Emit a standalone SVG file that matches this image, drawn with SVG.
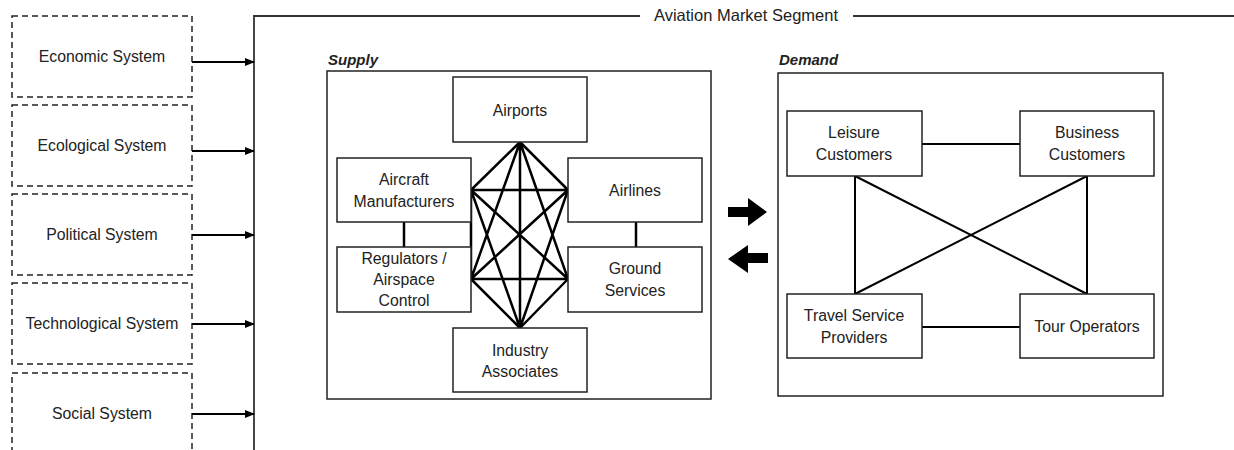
<svg xmlns="http://www.w3.org/2000/svg" width="1234" height="450" viewBox="0 0 1234 450">
<defs>
<marker id="ah" markerWidth="10" markerHeight="10" refX="9" refY="5" orient="auto" markerUnits="userSpaceOnUse">
<path d="M0,1 L10,5 L0,9 Z" fill="#000"/>
</marker>
<style>
text{font-family:"Liberation Sans",Arial,sans-serif;font-size:15.8px;fill:#222;text-anchor:middle}
.lbl{font-weight:bold;font-style:italic;text-anchor:start;font-size:15px}
.ttl{font-size:16.5px}
.dash{fill:#fff;stroke:#222;stroke-width:1.5;stroke-dasharray:6,4}
.box{fill:#fff;stroke:#222;stroke-width:1.5}
.frame{fill:none;stroke:#333;stroke-width:1.8}
.arr{stroke:#000;stroke-width:2;fill:none}
.k{stroke:#000;stroke-width:2.5;fill:none}
.d{stroke:#000;stroke-width:2;fill:none}
</style>
</defs>
<rect width="1234" height="450" fill="#fff"/>

<g id="frame">
<line x1="254" y1="16" x2="254" y2="450" class="frame"/>
<line x1="253" y1="16" x2="640" y2="16" class="frame"/>
<line x1="853" y1="16" x2="1234" y2="16" class="frame"/>
<text x="746" y="21" class="ttl">Aviation Market Segment</text>
</g>

<g id="economic"><rect x="12" y="16" width="180" height="81" class="dash"/><text x="102" y="62">Economic System</text></g>
<g id="ecological"><rect x="12" y="105" width="180" height="81" class="dash"/><text x="102" y="151">Ecological System</text></g>
<g id="political"><rect x="12" y="194" width="180" height="81" class="dash"/><text x="102" y="240">Political System</text></g>
<g id="technological"><rect x="12" y="283" width="180" height="81" class="dash"/><text x="102" y="329">Technological System</text></g>
<g id="social"><rect x="12" y="373" width="180" height="90" class="dash"/><text x="102" y="419">Social System</text></g>

<g id="supply">
<text x="328" y="65" class="lbl">Supply</text>
<rect x="327" y="71" width="384" height="328" class="box"/>
</g>
<g id="demand">
<text x="779" y="65" class="lbl">Demand</text>
<rect x="778" y="73" width="385" height="323" class="box"/>
</g>

<g id="connectors">
<line x1="192" y1="62" x2="254" y2="62" class="arr" marker-end="url(#ah)"/>
<line x1="192" y1="151" x2="254" y2="151" class="arr" marker-end="url(#ah)"/>
<line x1="192" y1="235" x2="254" y2="235" class="arr" marker-end="url(#ah)"/>
<line x1="192" y1="324" x2="254" y2="324" class="arr" marker-end="url(#ah)"/>
<line x1="192" y1="414" x2="254" y2="414" class="arr" marker-end="url(#ah)"/>
<!-- K6 supply -->
<path class="k" d="M520,142 L471,190 M520,142 L568,190 M520,142 L471,279 M520,142 L568,279 M520,142 L520,328
M471,190 L568,190 M471,190 L471,279 M471,190 L568,279 M471,190 L520,328
M568,190 L471,279 M568,190 L520,328
M471,279 L568,279 M471,279 L520,328
M568,279 L520,328"/>
<line x1="404" y1="222" x2="404" y2="247" class="k"/>
<line x1="636" y1="222" x2="636" y2="247" class="k"/>
<!-- demand -->
<line x1="922" y1="144" x2="1020" y2="144" class="d"/>
<line x1="922" y1="327" x2="1020" y2="327" class="d"/>
<line x1="855" y1="176" x2="855" y2="294" class="d"/>
<line x1="1087" y1="176" x2="1087" y2="294" class="d"/>
<line x1="855" y1="176" x2="1087" y2="294" class="d"/>
<line x1="1087" y1="176" x2="855" y2="294" class="d"/>
<!-- block arrows -->
<path d="M728,207 L748,207 L748,198 L767,212 L748,226 L748,217 L728,217 Z" fill="#000"/>
<path d="M768,253 L748,253 L748,245 L728,259 L748,273 L748,263 L768,263 Z" fill="#000"/>
</g>

<g id="airports"><rect x="453" y="77" width="134" height="65" class="box"/><text x="520" y="116">Airports</text></g>
<g id="aircraft"><rect x="337" y="158" width="134" height="64" class="box"/><text x="404" y="185">Aircraft</text><text x="404" y="207">Manufacturers</text></g>
<g id="airlines"><rect x="568" y="158" width="134" height="64" class="box"/><text x="635" y="196">Airlines</text></g>
<g id="regulators"><rect x="337" y="247" width="134" height="65" class="box"/><text x="404" y="264">Regulators /</text><text x="404" y="285">Airspace</text><text x="404" y="306">Control</text></g>
<g id="ground"><rect x="568" y="247" width="134" height="65" class="box"/><text x="635" y="274">Ground</text><text x="635" y="296">Services</text></g>
<g id="industry"><rect x="453" y="328" width="134" height="64" class="box"/><text x="520" y="356">Industry</text><text x="520" y="377">Associates</text></g>

<g id="leisure"><rect x="787" y="111" width="135" height="65" class="box"/><text x="854" y="138">Leisure</text><text x="854" y="160">Customers</text></g>
<g id="business"><rect x="1020" y="111" width="134" height="65" class="box"/><text x="1087" y="138">Business</text><text x="1087" y="160">Customers</text></g>
<g id="travel"><rect x="787" y="294" width="135" height="64" class="box"/><text x="854" y="321">Travel Service</text><text x="854" y="343">Providers</text></g>
<g id="tour"><rect x="1020" y="294" width="134" height="64" class="box"/><text x="1087" y="332">Tour Operators</text></g>
</svg>
